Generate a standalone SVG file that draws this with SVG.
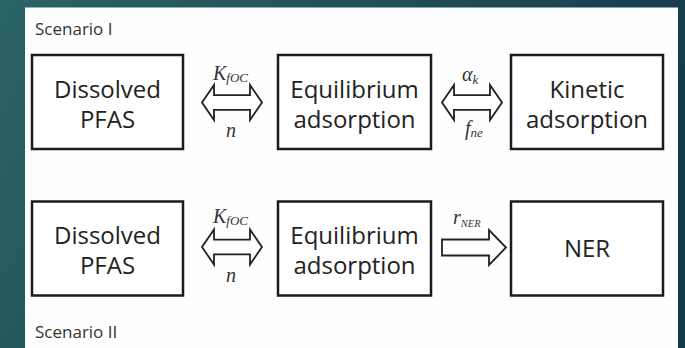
<svg xmlns="http://www.w3.org/2000/svg" width="685" height="348" viewBox="0 0 685 348">
<defs>
<linearGradient id="bg" x1="0" y1="0" x2="1" y2="0.3">
<stop offset="0" stop-color="#2b6466"/>
<stop offset="1" stop-color="#153b4b"/>
</linearGradient>
</defs>
<style>
.box{fill:#ffffff;stroke:#1c1c1c;stroke-width:2.5}
.arr{fill:#ffffff;stroke:#222;stroke-width:1.8;stroke-linejoin:miter}
.t{font-family:"Open Sans","Liberation Sans",sans-serif;font-size:24px;fill:#222;text-anchor:middle}
.sc{font-family:"Open Sans","Liberation Sans",sans-serif;font-size:17px;fill:#333}
.m{font-family:"Liberation Serif",serif;font-style:italic;font-size:20px;fill:#333}
.s{font-size:13px}
</style>
<rect x="0" y="0" width="685" height="348" fill="url(#bg)"/>
<rect x="25" y="7.5" width="653" height="341" fill="#fefefe"/>
<text class="sc" x="35" y="35">Scenario I</text>
<text class="sc" x="35" y="338">Scenario II</text>

<g id="n1">
<rect class="box" x="32" y="55" width="151" height="94"/>
<text class="t" x="107.5" y="98">Dissolved</text>
<text class="t" x="107.5" y="128">PFAS</text>
</g>
<g id="n2">
<rect class="box" x="278" y="55" width="153" height="94"/>
<text class="t" x="354.5" y="98">Equilibrium</text>
<text class="t" x="354.5" y="128">adsorption</text>
</g>
<g id="n3">
<rect class="box" x="511" y="55" width="152" height="94"/>
<text class="t" x="587" y="98">Kinetic</text>
<text class="t" x="587" y="128">adsorption</text>
</g>
<g id="n4">
<rect class="box" x="32" y="201.5" width="151" height="94"/>
<text class="t" x="107.5" y="244">Dissolved</text>
<text class="t" x="107.5" y="274">PFAS</text>
</g>
<g id="n5">
<rect class="box" x="278" y="201.5" width="153" height="94"/>
<text class="t" x="354.5" y="244">Equilibrium</text>
<text class="t" x="354.5" y="274">adsorption</text>
</g>
<g id="n6">
<rect class="box" x="511" y="201.5" width="152" height="94"/>
<text class="t" x="587" y="257">NER</text>
</g>

<g id="connectors">
<path class="arr" d="M202,102.5 L214,85 L214,95.2 L250,95.2 L250,85 L262,102.5 L250,120 L250,109.8 L214,109.8 L214,120 Z"/>
<path class="arr" d="M442,102.5 L454,85 L454,95.2 L490,95.2 L490,85 L502,102.5 L490,120 L490,109.8 L454,109.8 L454,120 Z"/>
<path class="arr" d="M202,247 L214,229.5 L214,239.7 L250,239.7 L250,229.5 L262,247 L250,264.5 L250,254.3 L214,254.3 L214,264.5 Z"/>
<path class="arr" d="M442,239.5 L489,239.5 L489,230 L506,247.5 L489,265 L489,255.5 L442,255.5 Z"/>
<text class="m" x="213" y="80">K<tspan class="s" dy="2">fOC</tspan></text>
<text class="m" x="226" y="137">n</text>
<text class="m" x="462" y="81">α<tspan class="s" dy="3">k</tspan></text>
<text class="m" x="465" y="135">f<tspan class="s" dy="2">ne</tspan></text>
<text class="m" x="213" y="223">K<tspan class="s" dy="2">fOC</tspan></text>
<text class="m" x="226" y="282">n</text>
<text class="m" x="453" y="224">r<tspan style="font-size:10.5px" dy="3">NER</tspan></text>
</g>
</svg>
